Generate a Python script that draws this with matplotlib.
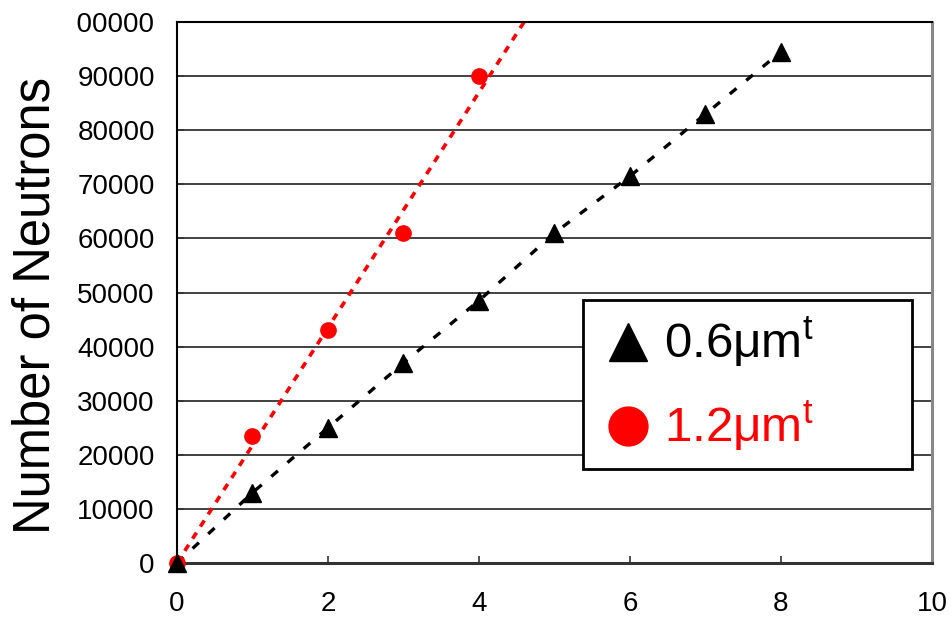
import matplotlib
matplotlib.use('Agg')
import matplotlib.pyplot as plt
from matplotlib.lines import Line2D
from matplotlib.patches import Rectangle
import numpy as np

plt.rcParams['font.family'] = ['Liberation Sans', 'DejaVu Sans']
plt.rcParams['mathtext.fontset'] = 'custom'
plt.rcParams['mathtext.rm'] = 'Liberation Sans'

# neutron yield for the two target thicknesses
shots_thin = [0, 1, 2, 3, 4, 5, 6, 7, 8]
neutrons_thin = [0, 13000, 25000, 37000, 48500, 61000, 71500, 83000, 94500]
shots_thick = [0, 1, 2, 3, 4]
neutrons_thick = [0, 23500, 43000, 61000, 90000]

x_ticks = [0, 2, 4, 6, 8, 10]
y_ticks = [0, 10000, 20000, 30000, 40000, 50000, 60000, 70000, 80000, 90000, 100000]

fig = plt.figure(figsize=(9.51, 6.2), dpi=100)
ax = fig.add_axes([0.1861, 0.0919, 0.7939, 0.8726])

ax.set_xlim(0, 10)
ax.set_ylim(0, 100000)

# horizontal grid
for y in y_ticks[1:-1]:
    ax.axhline(y, color='#333333', lw=1.3, zorder=1)

# straight-line fit through the origin for the thicker target
xt = np.array(shots_thick, dtype=float)
yt = np.array(neutrons_thick, dtype=float)
slope = (xt * yt).sum() / (xt * xt).sum()
xfit = np.array([0, 5.0])
ax.plot(xfit, slope * xfit, color='red', lw=2.6, dashes=(2.0, 2.0), zorder=2)

# thinner target: points joined by a dashed line
ax.plot(shots_thin, neutrons_thin, color='black', lw=2.4, dashes=(2.6, 3.8), zorder=2)

ax.plot(shots_thick, neutrons_thick, 'o', color='red', ms=11, mec='red',
        clip_on=False, zorder=3)
ax.plot(shots_thin, neutrons_thin, '^', color='black', ms=13, mec='black',
        clip_on=False, zorder=4)

ax.set_xticks(x_ticks)
ax.set_yticks(y_ticks)
ax.set_xticklabels([str(v) for v in x_ticks])
ax.set_yticklabels([str(v) for v in y_ticks])
ax.tick_params(axis='both', direction='in', length=5, width=1.2, labelsize=20,
               colors='#333333', labelcolor='black')
ax.tick_params(axis='y', pad=16)
ax.tick_params(axis='x', pad=20)

for side in ['left', 'top']:
    ax.spines[side].set_color('black')
    ax.spines[side].set_linewidth(1.5)
ax.spines['bottom'].set_color('#333333')
ax.spines['bottom'].set_linewidth(2.2)
ax.spines['right'].set_color('#888888')
ax.spines['right'].set_linewidth(2.2)

ax.set_ylabel('Number of Neutrons', fontsize=36.5)
ax.yaxis.set_label_coords(-0.154, 0.476)

handles = [
    Line2D([], [], ls='none', marker='^', color='black', ms=28),
    Line2D([], [], ls='none', marker='o', color='red', ms=28),
]
labels = ['0.6μm$^{\\mathrm{t}}$', '1.2μm$^{\\mathrm{t}}$']
leg = ax.legend(handles, labels, loc='upper left',
                bbox_to_anchor=(0.5377, 0.179, 0.4358, 0.307), mode='expand',
                fontsize=35.5, frameon=True, fancybox=False, framealpha=1,
                edgecolor='black', borderpad=0.3, labelspacing=0.58,
                handlelength=1.22, handletextpad=0.12, borderaxespad=0)
leg.get_frame().set_linewidth(2.0)
leg.texts[1].set_color('red')
leg.set_zorder(5)

# the leading digit of the top tick label falls off the left edge
fig.add_artist(Rectangle((0, 576), 77, 44, transform=None, facecolor='white',
                         edgecolor='none', zorder=10))

fig.savefig('out.png', dpi=100)
